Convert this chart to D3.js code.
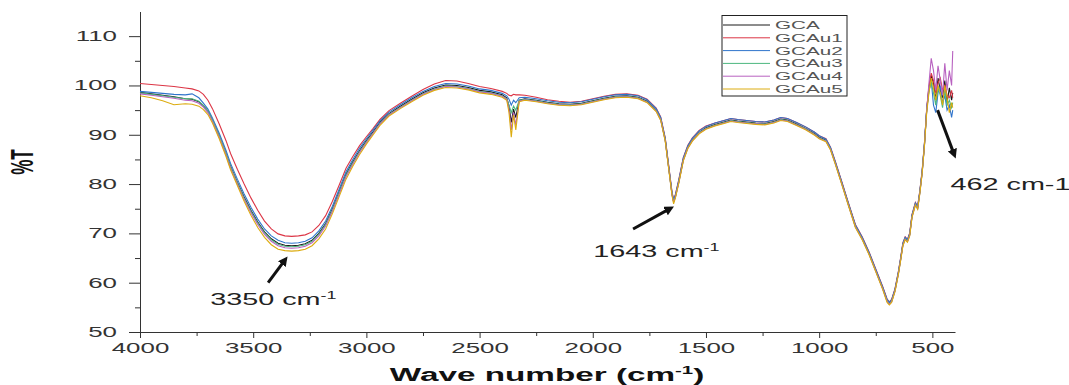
<!DOCTYPE html>
<html>
<head>
<meta charset="utf-8">
<script src="https://cdn.jsdelivr.net/npm/d3@7"></script>
<style>
  body { margin: 0; background: #fff; }
  svg { display: block; }
  text { font-family: Arial, "Liberation Sans", sans-serif; }
</style>
</head>
<body>
<div id="chart"></div>
<script>
var width = 1069;
var height = 385;

// shared wavenumber grid (cm-1), high to low
var wavenumbers = [
  4000, 3950, 3900, 3850, 3800, 3770, 3740, 3720, 3700, 3680,
  3650, 3620, 3600, 3570, 3540, 3510, 3480, 3450, 3420, 3390,
  3360, 3330, 3300, 3270, 3240, 3210, 3180, 3150, 3120, 3090,
  3060, 3030, 3000, 2970, 2940, 2900, 2850, 2800, 2750, 2700,
  2650, 2600, 2550, 2500, 2450, 2400, 2380, 2370, 2360, 2350,
  2340, 2325, 2300, 2250, 2200, 2150, 2100, 2050, 2000, 1950,
  1900, 1850, 1800, 1760, 1720, 1700, 1680, 1665, 1650, 1643,
  1635, 1620, 1600, 1580, 1560, 1530, 1500, 1460, 1420, 1390,
  1360, 1320, 1280, 1240, 1200, 1170, 1140, 1100, 1060, 1020,
  1000, 970, 950, 930, 900, 870, 840, 810, 780, 750,
  720, 700, 690, 680, 665, 650, 640, 630, 620, 610,
  600, 590, 575, 565, 555, 545, 535, 525, 515, 505,
  495, 485, 475, 465, 455, 445, 435, 425, 415, 410
];

var GCA = [
  98.6, 98.3, 98.0, 97.7, 97.3, 97.2, 96.7, 95.9, 94.8, 93.0,
  89.8, 86.2, 83.6, 80.4, 77.4, 74.7, 72.3, 70.3, 68.9, 68.0,
  67.6, 67.5, 67.6, 67.9, 68.6, 70.0, 72.0, 75.0, 78.5, 82.0,
  84.5, 86.8, 88.8, 90.6, 92.5, 94.3, 95.8, 97.2, 98.5, 99.5,
  100.1, 100.0, 99.6, 99.0, 98.7, 98.1, 97.5, 95.8, 92.5, 95.2,
  93.5, 97.0, 97.3, 97.0, 96.6, 96.3, 96.2, 96.4, 96.9, 97.4,
  97.8, 97.9, 97.6, 96.8, 95.0, 93.2, 89.0, 83.5, 78.0, 76.5,
  77.5, 80.5, 85.0, 87.5, 89.0, 90.5, 91.4, 92.1, 92.6, 93.0,
  92.8, 92.6, 92.4, 92.3, 92.7, 93.2, 93.0, 92.2, 91.3, 90.2,
  89.5, 88.9, 87.2, 84.5, 80.2, 75.8, 71.5, 69.0, 66.0, 62.5,
  59.0, 56.4, 55.8, 56.3, 58.5, 62.0, 64.8, 67.8, 69.0, 68.5,
  69.8, 73.5, 76.0, 75.2, 78.5, 82.5, 88.0, 95.0, 99.5, 102.0,
  100.5, 97.0, 101.5, 99.0, 97.5, 101.0, 96.5, 99.5, 97.0, 98.5
];

var GCAu1 = [
  100.4, 100.2, 100.0, 99.8, 99.5, 99.3, 98.9, 98.2, 97.0, 95.3,
  92.2, 88.8, 86.2, 83.0, 80.0, 77.2, 74.7, 72.5, 70.9, 69.9,
  69.5, 69.4, 69.5, 69.7, 70.3, 71.6, 73.6, 76.5, 79.8, 83.2,
  85.6, 87.8, 89.6, 91.3, 93.1, 94.9, 96.4, 97.8, 99.2, 100.3,
  101.0, 100.9, 100.4, 99.8, 99.4, 98.8, 98.4, 98.0, 97.9, 98.2,
  98.1, 98.1, 98.0, 97.6, 97.1, 96.8, 96.6, 96.8, 97.3, 97.8,
  98.2, 98.3, 98.0, 97.2, 95.4, 93.6, 89.4, 83.9, 78.4, 76.9,
  77.9, 80.9, 85.4, 87.9, 89.4, 90.9, 91.8, 92.4, 92.9, 93.3,
  93.1, 92.9, 92.7, 92.6, 93.0, 93.5, 93.3, 92.5, 91.6, 90.5,
  89.8, 89.2, 87.5, 84.8, 80.5, 76.1, 71.8, 69.3, 66.3, 62.8,
  59.3, 56.7, 56.1, 56.6, 58.8, 62.3, 65.1, 68.1, 69.3, 68.8,
  70.1, 73.8, 76.3, 75.5, 78.8, 82.8, 88.3, 95.3, 99.8, 102.5,
  101.0, 98.5, 100.5, 101.5, 99.0, 100.0, 98.0, 97.5, 99.0, 97.5
];

var GCAu2 = [
  98.8, 98.6, 98.4, 98.2, 98.1, 98.3, 97.5, 96.4, 95.2, 93.4,
  90.3, 86.8, 84.2, 81.0, 78.0, 75.3, 72.9, 70.9, 69.5, 68.6,
  68.1, 68.0, 68.1, 68.4, 69.1, 70.5, 72.5, 75.5, 79.0, 82.5,
  85.0, 87.3, 89.2, 91.0, 92.8, 94.6, 96.1, 97.5, 98.8, 99.8,
  100.4, 100.3, 99.9, 99.3, 99.0, 98.4, 97.9, 97.2, 96.0, 97.0,
  96.5, 97.5, 97.6, 97.3, 96.9, 96.6, 96.5, 96.7, 97.2, 97.7,
  98.1, 98.2, 97.9, 97.1, 95.3, 93.5, 89.3, 83.8, 78.3, 76.8,
  77.8, 80.8, 85.3, 87.8, 89.3, 90.8, 91.7, 92.4, 92.9, 93.3,
  93.1, 92.9, 92.7, 92.6, 93.0, 93.5, 93.3, 92.5, 91.6, 90.5,
  89.8, 89.1, 87.4, 84.7, 80.4, 76.0, 71.7, 69.2, 66.2, 62.7,
  59.2, 56.6, 56.0, 56.5, 58.7, 62.2, 65.0, 68.0, 69.2, 68.7,
  70.0, 73.7, 76.2, 75.4, 78.7, 82.7, 88.2, 95.2, 99.0, 101.0,
  96.0, 94.5, 98.5, 100.0, 96.5, 98.0, 95.0, 96.0, 93.5, 95.0
];

var GCAu3 = [
  98.5, 98.2, 97.9, 97.6, 97.3, 97.3, 96.8, 95.9, 94.8, 93.0,
  89.8, 86.2, 83.5, 80.3, 77.2, 74.5, 72.1, 70.1, 68.7, 67.8,
  67.4, 67.3, 67.4, 67.7, 68.4, 69.8, 71.8, 74.8, 78.3, 81.8,
  84.3, 86.6, 88.6, 90.4, 92.3, 94.1, 95.6, 97.0, 98.3, 99.3,
  99.9, 99.8, 99.4, 98.8, 98.5, 97.9, 97.3, 96.0, 94.5, 95.8,
  95.0, 97.0, 97.2, 96.9, 96.5, 96.2, 96.1, 96.3, 96.8, 97.3,
  97.7, 97.8, 97.5, 96.7, 94.9, 93.1, 88.9, 83.4, 77.9, 76.4,
  77.4, 80.4, 84.9, 87.4, 88.9, 90.4, 91.3, 92.0, 92.5, 92.9,
  92.7, 92.5, 92.3, 92.2, 92.6, 93.1, 92.9, 92.1, 91.2, 90.1,
  89.4, 88.8, 87.1, 84.4, 80.1, 75.7, 71.4, 68.9, 65.9, 62.4,
  58.9, 56.3, 55.7, 56.2, 58.4, 61.9, 64.7, 67.7, 68.9, 68.4,
  69.7, 73.4, 75.9, 75.1, 78.4, 82.4, 87.9, 94.9, 99.0, 100.5,
  98.5, 96.0, 99.5, 98.0, 95.5, 99.0, 96.0, 97.0, 95.5, 96.5
];

var GCAu4 = [
  98.3, 98.0, 97.7, 97.4, 97.0, 96.9, 96.4, 95.6, 94.5, 92.7,
  89.5, 85.9, 83.2, 80.0, 76.9, 74.2, 71.8, 69.8, 68.4, 67.5,
  67.1, 67.0, 67.1, 67.4, 68.1, 69.5, 71.5, 74.5, 78.0, 81.5,
  84.0, 86.4, 88.4, 90.3, 92.2, 94.0, 95.5, 96.9, 98.2, 99.2,
  99.8, 99.7, 99.3, 98.7, 98.4, 97.8, 97.2, 95.2, 91.0, 94.5,
  92.0, 96.8, 97.1, 96.8, 96.4, 96.1, 96.0, 96.2, 96.7, 97.2,
  97.6, 97.7, 97.4, 96.6, 94.8, 93.0, 88.8, 83.3, 77.8, 76.3,
  77.3, 80.3, 84.8, 87.3, 88.8, 90.3, 91.2, 91.9, 92.4, 92.8,
  92.6, 92.4, 92.2, 92.1, 92.5, 93.0, 92.8, 92.0, 91.1, 90.0,
  89.3, 88.7, 87.0, 84.3, 80.0, 75.6, 71.3, 68.8, 65.8, 62.3,
  58.8, 56.2, 55.6, 56.1, 58.3, 61.8, 64.6, 67.6, 68.8, 68.3,
  69.6, 73.3, 75.8, 75.0, 78.3, 82.3, 87.8, 95.0, 100.5, 105.5,
  103.0, 99.0, 104.0, 101.0, 98.0, 104.5, 99.0, 103.0, 100.0, 107.0
];

var GCAu5 = [
  97.9, 97.5, 96.9, 96.1, 96.3, 96.2, 95.8, 95.1, 94.1, 92.4,
  89.2, 85.6, 82.9, 79.7, 76.5, 73.7, 71.2, 69.2, 67.7, 66.8,
  66.5, 66.4, 66.5, 66.8, 67.5, 68.9, 70.9, 74.0, 77.5, 81.0,
  83.6, 86.0, 88.1, 90.0, 91.9, 93.8, 95.3, 96.7, 98.0, 99.0,
  99.6, 99.5, 99.1, 98.5, 98.2, 97.6, 97.0, 94.5, 89.5, 94.0,
  91.0, 96.7, 97.0, 96.7, 96.3, 96.0, 95.9, 96.1, 96.6, 97.1,
  97.5, 97.6, 97.3, 96.5, 94.7, 92.9, 88.7, 83.2, 77.7, 76.0,
  77.2, 80.2, 84.7, 87.2, 88.7, 90.2, 91.1, 91.8, 92.3, 92.7,
  92.5, 92.3, 92.1, 92.0, 92.4, 92.9, 92.7, 91.9, 91.0, 89.9,
  89.2, 88.6, 86.9, 84.2, 79.9, 75.5, 71.2, 68.7, 65.7, 62.2,
  58.7, 56.0, 55.5, 56.0, 58.2, 61.7, 64.5, 67.5, 68.7, 68.2,
  69.5, 73.2, 75.7, 74.9, 78.2, 82.2, 87.7, 94.5, 98.5, 101.5,
  99.5, 97.0, 100.0, 98.5, 96.0, 100.0, 97.5, 94.5, 96.5, 95.5
];

var seriesNames = ["GCA", "GCAu1", "GCAu2", "GCAu3", "GCAu4", "GCAu5"];
var seriesValues = [GCA, GCAu1, GCAu2, GCAu3, GCAu4, GCAu5];
var seriesColors = ["#1a1a1a", "#dc3545", "#2f74cc", "#4cb77f", "#b862c0", "#dcac10"];

var xTicks = [4000, 3500, 3000, 2500, 2000, 1500, 1000, 500];
var xMinorTicks = [3750, 3250, 2750, 2250, 1750, 1250, 750];
var yTicks = [50, 60, 70, 80, 90, 100, 110];
var yMinorTicks = [55, 65, 75, 85, 95, 105];

// annotations in data units
var peakLabels = ["3350", "1643", "462"];
var peakTextPos = [[3690, 55.4], [1998, 65.2], [420, 78.9]];
var arrowTails = [[3434, 60.0], [1822, 70.9], [477, 95.0]];
var arrowHeads = [[3350, 65.2], [1644, 75.4], [398, 85.3]];

var SX = 1.85; // horizontal stretch of the original picture's text

var svg = d3.select("#chart")
  .append("svg")
  .attr("width", width)
  .attr("height", height);

var xScale = d3.scaleLinear()
  .domain([4000, 400])
  .range([140, 955]);

var yScale = d3.scaleLinear()
  .domain([50, 115])
  .range([332, 11.5]);

// axes
var xAxis = svg.append("g")
  .attr("transform", `translate(0,${yScale(50)})`)
  .call(d3.axisBottom(xScale).tickValues(xTicks).tickSize(6).tickSizeOuter(0).tickFormat(d3.format("d")));

svg.append("g")
  .attr("transform", `translate(0,${yScale(50)})`)
  .call(d3.axisBottom(xScale).tickValues(xMinorTicks).tickSize(4).tickFormat(""))
  .select(".domain").remove();

var yAxis = svg.append("g")
  .attr("transform", `translate(${xScale(4000)},0)`)
  .call(d3.axisLeft(yScale).tickValues(yTicks).tickSize(11).tickSizeOuter(0).tickFormat(d3.format("d")));

svg.append("g")
  .attr("transform", `translate(${xScale(4000)},0)`)
  .call(d3.axisLeft(yScale).tickValues(yMinorTicks).tickSize(5).tickFormat(""))
  .select(".domain").remove();

svg.selectAll(".domain, .tick line").attr("stroke", "#333");

xAxis.selectAll("text")
  .attr("font-size", 14)
  .attr("fill", "#333")
  .attr("y", 11)
  .attr("transform", `scale(${SX},1)`);

yAxis.selectAll("text")
  .attr("font-size", 14)
  .attr("fill", "#333")
  .attr("x", -23 / SX)
  .attr("transform", `scale(${SX},1)`);

// axis titles
var xTitle = svg.append("text")
  .attr("transform", `translate(547,381) scale(${SX},1)`)
  .attr("text-anchor", "middle")
  .attr("font-size", 18)
  .attr("font-weight", "bold")
  .attr("fill", "#111");
xTitle.append("tspan").text("Wave number (cm");
xTitle.append("tspan").attr("font-size", 11).attr("dy", -7).text("-1");
xTitle.append("tspan").attr("dy", 7).text(")");

svg.append("text")
  .attr("transform", "translate(33,162) rotate(-90) scale(1,1.85)")
  .attr("text-anchor", "middle")
  .attr("font-size", 17)
  .attr("font-weight", "bold")
  .attr("fill", "#111")
  .text("%T");

// spectra
var line = d3.line()
  .x(function(d, i) { return xScale(wavenumbers[i]); })
  .y(function(d) { return yScale(d); });

svg.selectAll(".spectrum")
  .data(seriesValues)
  .enter()
  .append("path")
    .attr("class", "spectrum")
    .attr("fill", "none")
    .attr("stroke", function(d, i) { return seriesColors[i]; })
    .attr("stroke-width", 1.1)
    .attr("d", line);

// legend
var legend = svg.append("g");
legend.append("rect")
  .attr("x", 722).attr("y", 15.5)
  .attr("width", 125).attr("height", 80.5)
  .attr("fill", "#fff")
  .attr("stroke", "#222");

var item = legend.selectAll(".item")
  .data(seriesNames)
  .enter()
  .append("g")
    .attr("class", "item")
    .attr("transform", function(d, i) { return `translate(0,${25 + i * 12.8})`; });

item.append("line")
  .attr("x1", 723).attr("x2", 770)
  .attr("stroke", function(d, i) { return seriesColors[i]; })
  .attr("stroke-width", 1);

item.append("text")
  .attr("transform", "translate(775,0) scale(1.88,1)")
  .attr("dy", "0.36em")
  .attr("font-size", 11)
  .attr("fill", "#555")
  .text(function(d) { return d; });

// peak annotations
var defs = svg.append("defs");
defs.append("marker")
  .attr("id", "head")
  .attr("viewBox", "0 0 10 10")
  .attr("refX", 2).attr("refY", 5)
  .attr("markerWidth", 3.2).attr("markerHeight", 3.2)
  .attr("orient", "auto")
  .append("path")
    .attr("d", "M0,0 L10,5 L0,10 z")
    .attr("fill", "#111");

arrowTails.forEach(function(t, i) {
  var x1 = xScale(t[0]), y1 = yScale(t[1]);
  var x2 = xScale(arrowHeads[i][0]), y2 = yScale(arrowHeads[i][1]);
  var len = Math.hypot(x2 - x1, y2 - y1);
  var k = (len - 7) / len;
  svg.append("line")
    .attr("x1", x1).attr("y1", y1)
    .attr("x2", x1 + (x2 - x1) * k).attr("y2", y1 + (y2 - y1) * k)
    .attr("stroke", "#111")
    .attr("stroke-width", 3)
    .attr("marker-end", "url(#head)");
});

peakLabels.forEach(function(label, i) {
  var t = svg.append("text")
    .attr("transform", `translate(${xScale(peakTextPos[i][0])},${yScale(peakTextPos[i][1])}) scale(1.8,1)`)
    .attr("font-family", "Lato, 'Open Sans', sans-serif")
    .attr("font-size", 16)
    .attr("fill", "#222");
  if (i < 2) {
    t.append("tspan").text(label + " cm");
    t.append("tspan").attr("font-size", 10).attr("dy", -6).text("-1");
  } else {
    t.text(label + " cm-1");
  }
});
</script>
</body>
</html>
